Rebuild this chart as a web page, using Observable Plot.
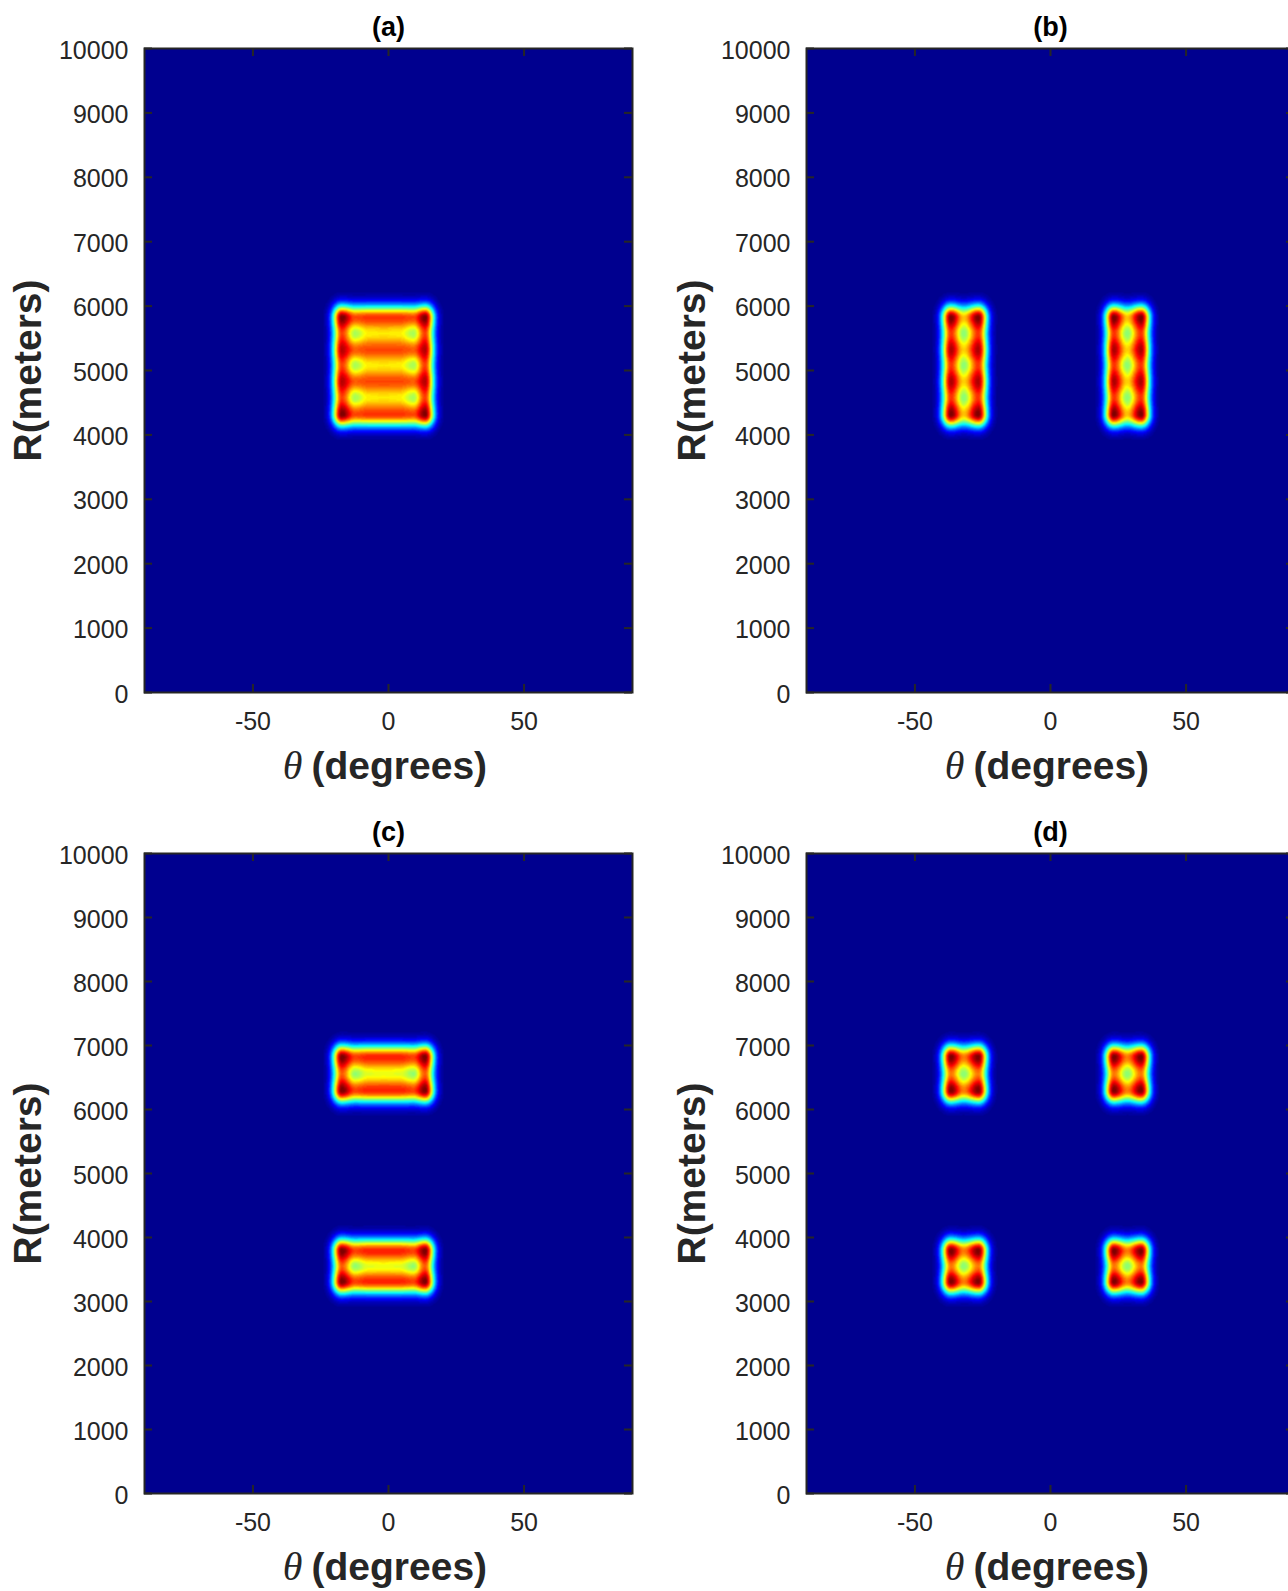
<!DOCTYPE html>
<html>
<head>
<meta charset="utf-8">
<script src="https://cdn.jsdelivr.net/npm/d3@7"></script>
<script src="https://cdn.jsdelivr.net/npm/@observablehq/plot@0.6"></script>
<style>
  html, body { margin: 0; padding: 0; background: #fff; }
  #figure { position: relative; width: 1288px; height: 1591px; overflow: hidden; background: #fff; }
  .cell { position: absolute; }
</style>
</head>
<body>
<div id="figure"></div>
<script>
// Axis ticks
const thetaTicks = [-50, 0, 50];
const rangeTicks = [0, 1000, 2000, 3000, 4000, 5000, 6000, 7000, 8000, 9000, 10000];
const panelTitles = ["(a)", "(b)", "(c)", "(d)"];

// Angles (degrees) of the crest / trough lattice of each illuminated block
const thetaWide = [-17.2, -12.3, -7.5, -1.8, 4.2, 9.2, 13.5];
const thetaNarrowLeft = [-36.7, -32.0, -26.6];
const thetaNarrowRight = [23.4, 28.3, 33.4];

// Ranges (meters) of the crest / trough lattice
const rangeTall = [4320, 4580, 4830, 5080, 5320, 5575, 5820];
const rangeLow = [3312, 3551, 3791];
const rangeHigh = [6298, 6557, 6817];

// Normalized beampattern level on each lattice (rows: range low -> high, cols: theta)
const levelsWideTall = [
  [1.00, 0.80, 0.82, 0.82, 0.82, 0.80, 1.00],
  [0.81, 0.53, 0.63, 0.64, 0.63, 0.53, 0.81],
  [0.94, 0.78, 0.80, 0.80, 0.80, 0.78, 0.94],
  [0.81, 0.53, 0.63, 0.64, 0.63, 0.53, 0.81],
  [0.94, 0.78, 0.80, 0.80, 0.80, 0.78, 0.94],
  [0.81, 0.53, 0.63, 0.64, 0.63, 0.53, 0.81],
  [1.00, 0.80, 0.82, 0.82, 0.82, 0.80, 1.00]
];
const levelsNarrowTall = [
  [1.00, 0.68, 1.00],
  [0.82, 0.50, 0.82],
  [0.95, 0.66, 0.95],
  [0.82, 0.50, 0.82],
  [0.95, 0.66, 0.95],
  [0.82, 0.50, 0.82],
  [1.00, 0.68, 1.00]
];
const levelsWideShort = [
  [1.00, 0.81, 0.84, 0.84, 0.84, 0.81, 1.00],
  [0.78, 0.51, 0.59, 0.60, 0.59, 0.51, 0.78],
  [1.00, 0.81, 0.84, 0.84, 0.84, 0.81, 1.00]
];
const levelsNarrowShort = [
  [1.00, 0.75, 1.00],
  [0.75, 0.50, 0.75],
  [1.00, 0.75, 1.00]
];

// Width of the roll-off outside each block
const edgeSpreadTheta = 3.4;   // degrees
const edgeSpreadRange = 195;   // meters

const panelBlocks = [
  [{theta: thetaWide, range: rangeTall, levels: levelsWideTall}],
  [{theta: thetaNarrowLeft, range: rangeTall, levels: levelsNarrowTall},
   {theta: thetaNarrowRight, range: rangeTall, levels: levelsNarrowTall}],
  [{theta: thetaWide, range: rangeLow, levels: levelsWideShort},
   {theta: thetaWide, range: rangeHigh, levels: levelsWideShort}],
  [{theta: thetaNarrowLeft, range: rangeLow, levels: levelsNarrowShort},
   {theta: thetaNarrowRight, range: rangeLow, levels: levelsNarrowShort},
   {theta: thetaNarrowLeft, range: rangeHigh, levels: levelsNarrowShort},
   {theta: thetaNarrowRight, range: rangeHigh, levels: levelsNarrowShort}]
];

// MATLAB-style jet colormap with 64 entries
function jet64(t) {
  const I = Math.max(1, Math.min(64, Math.floor(t * 64) + 1));
  const u = k => (k < 1 || k > 47) ? 0 : k <= 16 ? k / 16 : k <= 31 ? 1 : (48 - k) / 16;
  const c = v => Math.round(v * 255);
  return `rgb(${c(u(I - 24))},${c(u(I - 8))},${c(u(I + 8))})`;
}

function locate(knots, v) {
  const n = knots.length;
  for (let j = 0; j < n - 1; ++j) {
    if (v <= knots[j + 1]) {
      const t = (v - knots[j]) / (knots[j + 1] - knots[j]);
      return [j, (1 - Math.cos(Math.PI * t)) / 2];
    }
  }
  return [n - 2, 1];
}

function blockValue(b, th, r) {
  const tk = b.theta, rk = b.range;
  const tc = Math.max(tk[0], Math.min(tk[tk.length - 1], th));
  const rc = Math.max(rk[0], Math.min(rk[rk.length - 1], r));
  const dt = (th - tc) / edgeSpreadTheta, dr = (r - rc) / edgeSpreadRange;
  const fall = Math.exp(-dt * dt - dr * dr);
  if (fall < 1e-3) return 0;
  const [i, wi] = locate(tk, tc);
  const [j, wj] = locate(rk, rc);
  const L = b.levels;
  const lo = (1 - wi) * L[j][i] + wi * L[j][i + 1];
  const hi = (1 - wi) * L[j + 1][i] + wi * L[j + 1][i + 1];
  return ((1 - wj) * lo + wj * hi) * fall;
}

const ink = "#262626";
const font = "'Liberation Sans', Arial, Helvetica, sans-serif";

const cells = [
  {left: 0,   top: 0,   height: 800, marginTop: 48, marginBottom: 108, yLabelDx: -116},
  {left: 662, top: 0,   height: 800, marginTop: 48, marginBottom: 108, yLabelDx: -114},
  {left: 0,   top: 800, height: 791, marginTop: 53, marginBottom: 98,  yLabelDx: -116},
  {left: 662, top: 800, height: 791, marginTop: 53, marginBottom: 98,  yLabelDx: -114}
];

const figure = document.getElementById("figure");

cells.forEach((cell, k) => {
  const width = 660, marginLeft = 144, marginRight = 28;
  const plotW = width - marginLeft - marginRight;
  const plotH = cell.height - cell.marginTop - cell.marginBottom;
  const blocks = panelBlocks[k];
  const field = (th, r) => {
    let v = 0;
    for (const b of blocks) v = Math.max(v, blockValue(b, th, r));
    return v;
  };

  const chart = Plot.plot({
    width, height: cell.height,
    marginLeft, marginRight, marginTop: cell.marginTop, marginBottom: cell.marginBottom,
    x: {domain: [-90, 90]},
    y: {domain: [0, 10000]},
    color: {type: "linear", domain: [0, 1], interpolate: jet64, clamp: true},
    style: {fontFamily: font, fontSize: "25px", color: ink, background: "white", maxWidth: "none", overflow: "visible"},
    marks: [
      Plot.raster({fill: field, x1: -90, x2: 90, y1: 0, y2: 10000}),
      Plot.tickX(thetaTicks, {x: d => d, insetTop: plotH - 8, stroke: ink, strokeWidth: 2}),
      Plot.tickX(thetaTicks, {x: d => d, insetBottom: plotH - 8, stroke: ink, strokeWidth: 2}),
      Plot.tickY(rangeTicks, {y: d => d, insetRight: plotW - 8, stroke: ink, strokeWidth: 2}),
      Plot.tickY(rangeTicks, {y: d => d, insetLeft: plotW - 8, stroke: ink, strokeWidth: 2}),
      Plot.frame({stroke: ink, strokeWidth: 2}),
      Plot.axisX({ticks: thetaTicks, tickSize: 0, tickPadding: 20, label: null, tickFormat: d => String(d), fill: ink}),
      Plot.axisY({ticks: rangeTicks, tickSize: 0, tickPadding: 16, label: null, tickFormat: d => String(d), fill: ink, dy: 2}),
      Plot.text([panelTitles[k]], {text: d => d, frameAnchor: "top", dy: -21, lineAnchor: "middle",
        textAnchor: "middle", fontSize: 27, fontWeight: "bold", fill: "black"}),
      Plot.text(["R(meters)"], {text: d => d, frameAnchor: "left", dx: cell.yLabelDx, rotate: -90,
        textAnchor: "middle", lineAnchor: "middle", fontSize: 39, fontWeight: "bold", fill: ink}),
      Plot.text(["θ"], {text: d => d, frameAnchor: "bottom", dy: 74, dx: -86, textAnchor: "end",
        lineAnchor: "middle", fontSize: 40, fontStyle: "italic", fontFamily: "'Liberation Serif', 'DejaVu Serif', serif", fill: ink}),
      Plot.text(["(degrees)"], {text: d => d, frameAnchor: "bottom", dy: 74, dx: -77, textAnchor: "start",
        lineAnchor: "middle", fontSize: 39, fontWeight: "bold", fill: ink})
    ]
  });

  const div = document.createElement("div");
  div.className = "cell";
  div.style.left = cell.left + "px";
  div.style.top = cell.top + "px";
  div.appendChild(chart);
  figure.appendChild(div);
});
</script>
</body>
</html>
